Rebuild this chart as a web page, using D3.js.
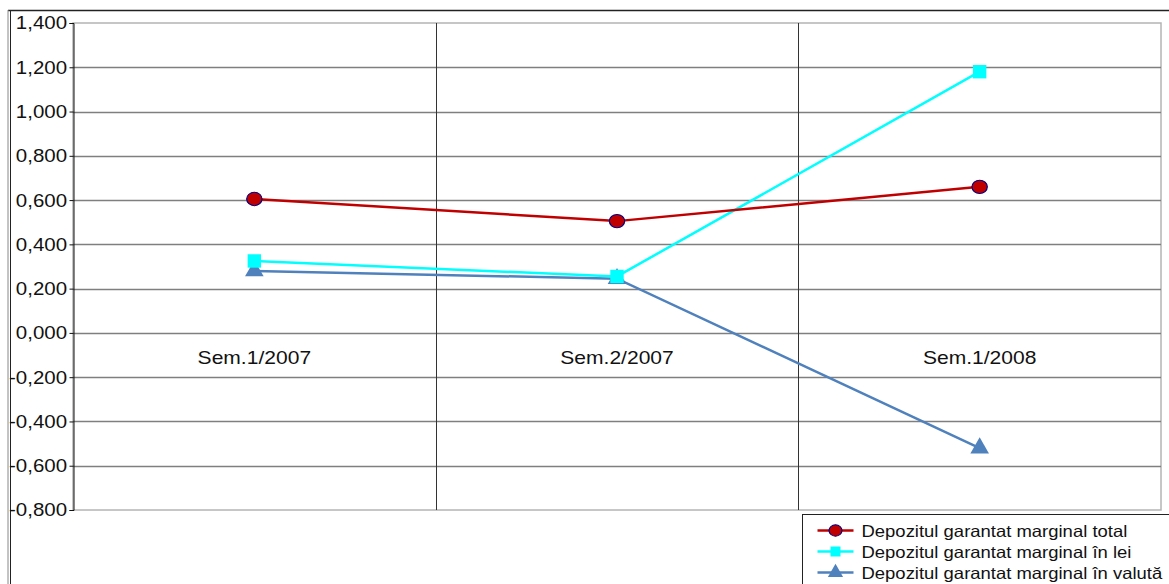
<!DOCTYPE html>
<html>
<head>
<meta charset="utf-8">
<script src="https://cdn.jsdelivr.net/npm/d3@7"></script>
<style>
  body { margin: 0; background: #fff; }
  svg { display: block; font-family: "Liberation Sans", Arial, sans-serif; }
</style>
</head>
<body>
<svg id="chart" width="1169" height="584"></svg>
<script>
// data
var categories = ["Sem.1/2007", "Sem.2/2007", "Sem.1/2008"];
var totalValues = [0.605, 0.505, 0.660];
var leiValues = [0.325, 0.255, 1.180];
var valutaValues = [0.280, 0.245, -0.520];
var yTicks = [1.4, 1.2, 1.0, 0.8, 0.6, 0.4, 0.2, 0.0, -0.2, -0.4, -0.6, -0.8];
var seriesNames = ["Depozitul garantat marginal total", "Depozitul garantat marginal în lei", "Depozitul garantat marginal în valută"];

var series = [
  {name: seriesNames[0], values: totalValues, color: "#c00000", symbol: d3.symbolCircle, fill: "#c00000", stroke: "#000080"},
  {name: seriesNames[1], values: leiValues, color: "#00ffff", symbol: d3.symbolSquare, fill: "#00ffff", stroke: "none"},
  {name: seriesNames[2], values: valutaValues, color: "#4f81bd", symbol: d3.symbolTriangle, fill: "#4f81bd", stroke: "none"}
];

var margin = {top: 23, left: 73, right: 8, bottom: 74};
var width = 1169, height = 584;
var svg = d3.select("#chart");

// outer frame
svg.append("line").attr("x1", 8).attr("x2", 1169).attr("y1", 10.5).attr("y2", 10.5).attr("stroke", "#222").attr("stroke-width", 1.5);
svg.append("line").attr("x1", 8).attr("x2", 8).attr("y1", 10).attr("y2", 584).attr("stroke", "#888").attr("stroke-width", 1);
svg.append("line").attr("x1", 10.5).attr("x2", 10.5).attr("y1", 10).attr("y2", 584).attr("stroke", "#222").attr("stroke-width", 1);

var x = d3.scaleBand().domain(categories).range([margin.left, width - margin.right]);
var y = d3.scaleLinear().domain([-0.8, 1.4]).range([height - margin.bottom, margin.top]);

// plot area border
svg.append("rect")
  .attr("x", margin.left).attr("y", margin.top)
  .attr("width", x.range()[1] - margin.left).attr("height", y(-0.8) - margin.top)
  .attr("fill", "none").attr("stroke", "#b4b4b4").attr("stroke-width", 1.5);

// horizontal gridlines
svg.append("g").selectAll("line")
  .data(yTicks.filter(function(d) { return d > -0.8 && d < 1.4; }))
  .enter().append("line")
  .attr("x1", margin.left).attr("x2", x.range()[1])
  .attr("y1", function(d) { return Math.round(y(d)) + 0.5; })
  .attr("y2", function(d) { return Math.round(y(d)) + 0.5; })
  .attr("stroke", "#7f7f7f").attr("stroke-width", 1.5);

// vertical separators between categories
svg.append("g").selectAll("line")
  .data(categories.slice(1))
  .enter().append("line")
  .attr("x1", function(d) { return Math.round(x(d)) + 0.5; })
  .attr("x2", function(d) { return Math.round(x(d)) + 0.5; })
  .attr("y1", margin.top).attr("y2", y(-0.8))
  .attr("stroke", "#333").attr("stroke-width", 1);

// y axis (text is a bit wide in the original, so stretch it)
var yAxis = d3.axisLeft(y).tickValues(yTicks).tickSize(4).tickPadding(2)
  .tickFormat(function(d) {
    var s = d3.format(".3f")(Math.abs(d)).replace(".", ",");
    return (d < 0 ? "-" : "") + s;
  });
var gy = svg.append("g").attr("transform", "translate(" + (margin.left + 0.5) + ",0)").call(yAxis);
gy.select(".domain").attr("stroke", "#111");
gy.selectAll(".tick line").attr("stroke", "#111");
gy.selectAll("text")
  .attr("x", -5.5).attr("dy", "0.34em")
  .attr("transform", "scale(1.17,1)")
  .attr("font-size", 17.5).attr("fill", "#111").attr("font-family", "Liberation Sans, Arial, sans-serif");

// category labels at zero line
svg.append("g").selectAll("text")
  .data(categories)
  .enter().append("text")
  .attr("transform", function(d) {
    return "translate(" + (x(d) + x.bandwidth() / 2) + "," + (y(0) + 31) + ") scale(1.17,1)";
  })
  .attr("text-anchor", "middle")
  .attr("font-size", 18).attr("fill", "#111")
  .text(function(d) { return d; });

var line = d3.line()
  .x(function(d, i) { return x(categories[i]) + x.bandwidth() / 2; })
  .y(function(d) { return y(d); });

// draw valuta first, then lei, then total (matches overlap)
[2, 1, 0].forEach(function(k) {
  var s = series[k];
  svg.append("path").datum(s.values)
    .attr("d", line).attr("fill", "none")
    .attr("stroke", s.color).attr("stroke-width", 2.5);
});
[2, 1, 0].forEach(function(k) {
  var s = series[k];
  svg.append("g").selectAll("path")
    .data(s.values).enter().append("path")
    .attr("transform", function(d, i) {
      return "translate(" + (x(categories[i]) + x.bandwidth() / 2) + "," + y(d) + ")" + (k === 0 ? " scale(1.15,1)" : "");
    })
    .attr("d", d3.symbol().type(s.symbol).size(k === 0 ? 140 : (k === 1 ? 180 : 150)))
    .attr("fill", s.fill).attr("stroke", s.stroke).attr("stroke-width", 1);
});

// legend
var lg = svg.append("g").attr("transform", "translate(802.5,514.5)");
lg.append("rect").attr("width", 380).attr("height", 80)
  .attr("fill", "#fff").attr("stroke", "#222").attr("stroke-width", 1);
var item = lg.selectAll("g.item").data(series).enter().append("g")
  .attr("class", "item")
  .attr("transform", function(d, i) { return "translate(0," + (16 + i * 21) + ")"; });
item.append("line").attr("x1", 15).attr("x2", 51).attr("y1", 0).attr("y2", 0)
  .attr("stroke", function(d) { return d.color; }).attr("stroke-width", 2.5);
item.append("path")
  .attr("transform", function(d, i) { return "translate(33,0)" + (i === 0 ? " scale(1.15,1)" : ""); })
  .attr("d", function(d) { return d3.symbol().type(d.symbol).size(100)(); })
  .attr("fill", function(d) { return d.fill; })
  .attr("stroke", function(d) { return d.stroke; }).attr("stroke-width", 1);
item.append("text")
  .attr("transform", "translate(59,6) scale(1.12,1)")
  .attr("font-size", 16.5).attr("fill", "#111")
  .text(function(d) { return d.name; });
</script>
</body>
</html>
